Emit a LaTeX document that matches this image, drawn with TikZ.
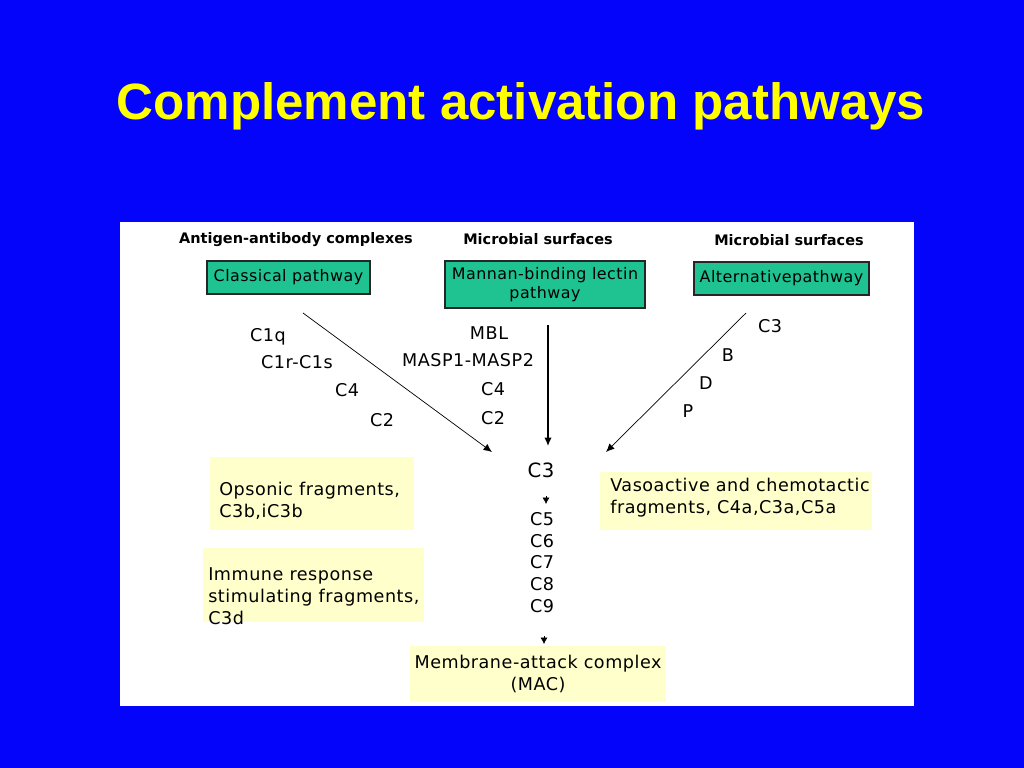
\documentclass[tikz,border=0pt]{standalone}
\usepackage{fontspec}
\setmainfont{DejaVu Sans}[LetterSpace=3]
\newfontfamily\headfont{DejaVu Sans}
\newfontfamily\titlefont{Liberation Sans}
\usetikzlibrary{arrows.meta}
\newlength\px \setlength\px{0.025cm}
\definecolor{slideblue}{RGB}{4,4,250}
\definecolor{slideyellow}{RGB}{255,255,0}
\definecolor{pathgreen}{RGB}{30,195,145}
\definecolor{fragyellow}{RGB}{255,255,204}
\tikzset{
  pathbox/.style={draw=black!85, line width=1.1pt, fill=pathgreen, inner sep=0pt, align=center, font=\fontsize{11.3}{14}\selectfont},
  source/.style={anchor=base, inner sep=0pt, font=\headfont\fontsize{10.3}{12}\selectfont\bfseries},
  factor/.style={anchor=base, inner sep=0pt, font=\fontsize{12.5}{15}\selectfont},
  fragbox/.style={fill=fragyellow, inner sep=0pt},
  fragtext/.style={anchor=base west, inner sep=0pt, align=left, font=\fontsize{12.5}{15.6}\selectfont},
  thinarrow/.style={line width=0.5pt, -{Latex[length=6pt,width=5.2pt]}},
  tinyarrow/.style={line width=0.4pt, -{Latex[length=4.6pt,width=5pt]}}
}
\begin{document}
\begin{tikzpicture}[x=\px,y=-\px]

%% Slide
\fill[slideblue] (0,0) rectangle (1024,768);
\useasboundingbox (0,0) rectangle (1024,768);
\node[anchor=base, inner sep=0pt, text=slideyellow, font=\titlefont\bfseries\fontsize{36.3}{42}\selectfont] (title) at (521,120) {Complement activation pathways};
\fill[white] (120,222) rectangle (914,706);

%% Sources
\node[source] (antigen) at (296,243) {Antigen-antibody complexes};
\node[source] (microbes1) at (538,244) {Microbial surfaces};
\node[source] (microbes2) at (789,245) {Microbial surfaces};

%% Pathways
\node[pathbox, minimum width=163\px, minimum height=33\px] (classical) at (288.5,277.5) {Classical pathway};
\node[pathbox, minimum width=200\px, minimum height=47\px] (lectin) at (545,284.5) {Mannan-binding lectin\\pathway};
\node[pathbox, minimum width=175\px, minimum height=33\px] (alternative) at (781.5,278.5) {Alternativepathway};

%% Classical factors
\node[factor] (c1q) at (268,341) {C1q};
\node[factor] (c1rs) at (297,368) {C1r-C1s};
\node[factor] (clc4) at (347,396) {C4};
\node[factor] (clc2) at (382,426) {C2};

%% Lectin factors
\node[factor] (mbl) at (489,339) {MBL};
\node[factor] (masp) at (468,366) {MASP1-MASP2};
\node[factor] (lec4) at (493,395) {C4};
\node[factor] (lec2) at (493,424) {C2};

%% Alternative factors
\node[factor] (alc3) at (770,332) {C3};
\node[factor] (facb) at (728,361) {B};
\node[factor] (facd) at (706,389) {D};
\node[factor] (facp) at (688,417) {P};

%% Terminal pathway
\node[factor, font=\fontsize{14}{16}\selectfont] (c3) at (541,477) {C3};
\node[factor] (c5) at (542,525) {C5};
\node[factor] (c6) at (542,547) {C6};
\node[factor] (c7) at (542,568) {C7};
\node[factor] (c8) at (542,590) {C8};
\node[factor] (c9) at (542,612) {C9};

%% Pathway arrows
\coordinate (clfrom) at (303,313);
\coordinate (clto) at (492,452);
\coordinate (lefrom) at (548,325);
\coordinate (leto) at (548,446);
\coordinate (alfrom) at (746,313);
\coordinate (alto) at (606,452);
\draw[thinarrow] (clfrom) -- (clto);
\draw[thinarrow, line width=0.9pt] (lefrom) -- (leto);
\draw[thinarrow] (alfrom) -- (alto);

%% Fragments
\node[fragbox, minimum width=204\px, minimum height=73\px] (opsonic) at (312,493.5) {};
\node[fragtext] (opsonictext) at (219,517) {Opsonic fragments,\\C3b,iC3b};
\node[fragbox, minimum width=221\px, minimum height=74\px] (immune) at (313.5,585) {};
\node[fragtext] (immunetext) at (208,624) {Immune response\\stimulating fragments,\\C3d};
\node[fragbox, minimum width=272\px, minimum height=58\px] (vaso) at (736,501) {};
\node[fragtext] (vasotext) at (610,513) {Vasoactive and chemotactic\\fragments, C4a,C3a,C5a};
\node[fragbox, minimum width=256\px, minimum height=56\px, align=center, font=\fontsize{12.5}{15.6}\selectfont] (mac) at (538,674) {Membrane-attack complex\\(MAC)};

%% Small arrows
\coordinate (c3out) at (546,496);
\coordinate (c5in) at (546,504);
\coordinate (c9out) at (544,636);
\coordinate (macin) at (544,644);
\draw[tinyarrow] (c3out) -- (c5in);
\draw[tinyarrow] (c9out) -- (macin);

\end{tikzpicture}
\end{document}
